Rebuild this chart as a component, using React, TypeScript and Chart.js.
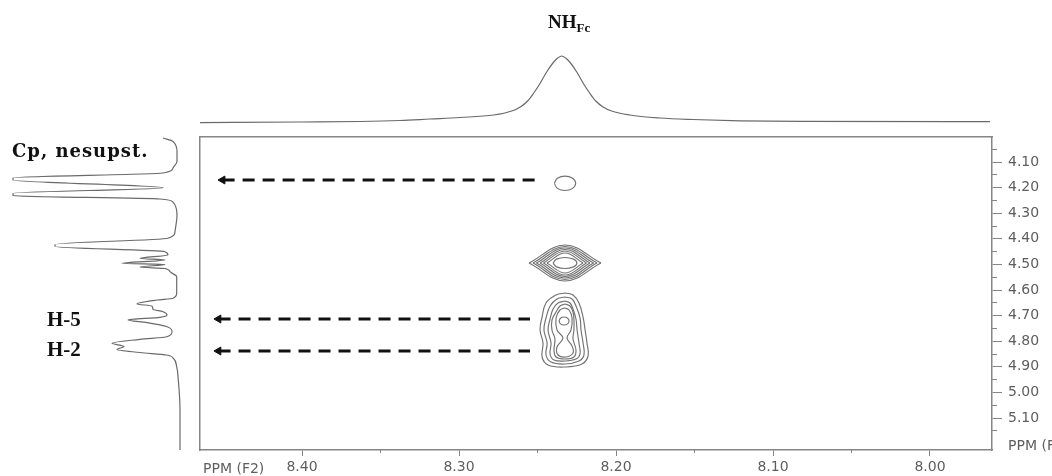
import React, { useEffect, useRef } from 'react';
import { Chart, registerables } from 'chart.js';

Chart.register(...registerables);

// ---------- axis ranges (ppm) ----------
const F2_MIN = 7.9605;
const F2_MAX = 8.465;
const F1_MIN = 4.0023;
const F1_MAX = 5.225;

// ---------- tick values ----------
const f2MajorTicks = [8.4, 8.3, 8.2, 8.1, 8.0];
const f2MinorTicks = [8.35, 8.25, 8.15, 8.05];
const f1MajorTicks = [4.1, 4.2, 4.3, 4.4, 4.5, 4.6, 4.7, 4.8, 4.9, 5.0, 5.1];
const f1MinorTicks = [4.05, 4.15, 4.25, 4.35, 4.45, 4.55, 4.65, 4.75, 4.85, 4.95, 5.05, 5.15];

// ---------- F2 projection (top trace) ----------
const topPpm = [
  8.465, 8.4013, 8.3631, 8.3376, 8.3185, 8.2994, 8.2779, 8.2664, 8.2607, 8.2563, 8.2524, 8.2486, 8.2442,
  8.2397, 8.2371, 8.2346, 8.2321, 8.2295, 8.225, 8.2206, 8.2168, 8.2129, 8.2085, 8.2028, 8.1913, 8.172,
  8.151, 8.121, 8.0828, 7.9618,
];
const topIntensity = [
  -0.7, 0, 0.5, 1.5, 3, 4.5, 7, 11, 15.3, 21, 29, 38, 50,
  60, 64, 66, 64, 60, 50, 38, 29, 21, 15.3, 11, 7, 4,
  2.5, 1.2, 0.6, 0.3,
];

// ---------- F1 projection (left trace) ----------
const leftPpm = [
  4.0063, 4.0196, 4.0586, 4.0977, 4.1234, 4.143, 4.1613, 4.1703, 4.2004, 4.2223, 4.2316, 4.2445, 4.257,
  4.307, 4.372, 4.3977, 4.4222, 4.43, 4.4504, 4.4633, 4.4762, 4.4828, 4.4957, 4.5004, 4.5102, 4.516,
  4.5285, 4.548, 4.6129, 4.6324, 4.6391, 4.6547, 4.6625, 4.6754, 4.6848, 4.6977, 4.7066, 4.7172, 4.7277,
  4.7434, 4.7629, 4.7824, 4.7926, 4.8082, 4.8207, 4.8324, 4.8441, 4.8539, 4.8668, 4.8996, 4.9516, 5.0688, 5.225,
];
const leftIntensity = [
  17, 7, 3, 3, 7, 17, 167, 167, 17, 167, 167, 20, 7,
  3, 5, 12, 125, 125, 15, 12, 40, 15, 58, 15, 40, 15,
  10, 3.3, 3.3, 7, 23, 43, 28, 27, 17, 13, 20, 52, 33,
  13, 8, 13, 40, 68, 56, 63, 40, 13.3, 6.7, 3.3, 1.7, 0, 0,
];

// ---------- cross peaks ----------
// elliptical contours: centre (F2, F1) and half-axes (ppm)
const ellipseCx = [8.2325, 8.2325, 8.2331];
const ellipseCy = [4.1832, 4.4945, 4.7211];
const ellipseRx = [0.0068, 0.0076, 0.0032];
const ellipseRy = [0.028, 0.0215, 0.0156];

// lens-shaped contours of the 4.49 ppm cross peak
const lensCx = 8.2325;
const lensCy = 4.4945;
const lensRx = [0.0229, 0.0204, 0.0182, 0.0159, 0.0137, 0.0115];
const lensRy = [0.0703, 0.0645, 0.0586, 0.0527, 0.0469, 0.0391];

// H-5 / H-2 cross peak contours (F2, F1)
const h5h2Contour1 = [
  [8.2325, 4.6117], [8.2274, 4.6195], [8.2236, 4.6508], [8.221, 4.7055], [8.2197, 4.7563], [8.2185, 4.807],
  [8.2178, 4.8578], [8.2217, 4.8891], [8.2325, 4.9008], [8.2433, 4.893], [8.2471, 4.8617], [8.2465, 4.807],
  [8.2484, 4.7563], [8.2471, 4.7055], [8.2446, 4.6508], [8.2382, 4.6195],
];
const h5h2Contour2 = [
  [8.2325, 4.6273], [8.228, 4.6352], [8.2255, 4.6625], [8.2229, 4.7094], [8.2223, 4.7563], [8.221, 4.807],
  [8.2204, 4.8539], [8.2236, 4.8773], [8.2325, 4.8891], [8.2414, 4.8813], [8.2446, 4.8539], [8.2439, 4.807],
  [8.2459, 4.7563], [8.2446, 4.7094], [8.242, 4.6625], [8.2376, 4.6352],
];
const h5h2Contour3 = [
  [8.2325, 4.643], [8.2293, 4.6508], [8.2274, 4.6742], [8.2255, 4.7133], [8.2248, 4.7563], [8.2236, 4.807],
  [8.2229, 4.85], [8.2255, 4.8695], [8.2325, 4.8773], [8.2395, 4.8734], [8.242, 4.85], [8.2414, 4.807],
  [8.2433, 4.7563], [8.242, 4.7133], [8.2401, 4.6742], [8.2369, 4.6508],
];
const h5h2Contour4 = [
  [8.2325, 4.6547], [8.2293, 4.6625], [8.2274, 4.6859], [8.2268, 4.7172], [8.2268, 4.7563], [8.2274, 4.7914],
  [8.2255, 4.8344], [8.2268, 4.8617], [8.2325, 4.8695], [8.2382, 4.8617], [8.2395, 4.8344], [8.2389, 4.7914],
  [8.2408, 4.7563], [8.2408, 4.7172], [8.2382, 4.6859], [8.2357, 4.6625],
];
const h5h2Contour5 = [
  [8.2325, 4.6703], [8.2299, 4.6781], [8.228, 4.7094], [8.2287, 4.7563], [8.2312, 4.7875], [8.228, 4.8188],
  [8.2274, 4.8461], [8.2318, 4.8617], [8.2369, 4.8539], [8.2376, 4.8227], [8.2338, 4.7875], [8.2376, 4.7563],
  [8.2382, 4.7094], [8.2357, 4.6781],
];
const h5h2Contours = [h5h2Contour1, h5h2Contour2, h5h2Contour3, h5h2Contour4, h5h2Contour5];

// ---------- dashed arrows (F1 row, F2 tip, F2 tail) ----------
const arrowF1 = [4.1703, 4.7133, 4.8383];
const arrowTipF2 = [8.4506, 8.4532, 8.4532];
const arrowTailF2 = [8.2516, 8.2548, 8.2548];

// ---------- styles ----------
const AXIS = '#858585';
const LABEL = '#5e5e5e';
const TRACE = '#6a6a6a';
const CONTOUR = '#727272';
const tickFont = { family: 'DejaVu Sans', size: 14 };

function contourDataset(points: number[][], closed: boolean) {
  const pts = closed ? [...points, points[0]] : points;
  return {
    data: pts.map(([x, y]) => ({ x, y })),
    showLine: true,
    borderColor: CONTOUR,
    borderWidth: 1.15,
    pointRadius: 0,
    tension: 0.4,
    fill: false,
  };
}

function ellipsePoints(cx: number, cy: number, rx: number, ry: number) {
  const k = 0.7071;
  return [
    [cx + rx, cy], [cx + k * rx, cy - k * ry], [cx, cy - ry], [cx - k * rx, cy - k * ry],
    [cx - rx, cy], [cx - k * rx, cy + k * ry], [cx, cy + ry], [cx + k * rx, cy + k * ry],
  ];
}

function buildMainDatasets() {
  const ds: any[] = [];
  ellipseCx.forEach((cx, i) => {
    ds.push(contourDataset(ellipsePoints(cx, ellipseCy[i], ellipseRx[i], ellipseRy[i]), true));
  });
  lensRx.forEach((rx, i) => {
    const ry = lensRy[i];
    ds.push(contourDataset([[lensCx + rx, lensCy], [lensCx, lensCy - ry], [lensCx - rx, lensCy]], false));
    ds.push(contourDataset([[lensCx + rx, lensCy], [lensCx, lensCy + ry], [lensCx - rx, lensCy]], false));
  });
  h5h2Contours.forEach((c) => ds.push(contourDataset(c, true)));
  arrowF1.forEach((y, i) => {
    ds.push({
      data: [{ x: arrowTipF2[i], y }, { x: arrowTailF2[i], y }],
      showLine: true,
      borderColor: '#111111',
      borderWidth: 3,
      borderDash: [12, 8],
      tension: 0,
      pointRadius: [4.6, 0],
      pointStyle: 'triangle',
      rotation: -90,
      pointBackgroundColor: '#111111',
      pointBorderColor: '#111111',
      pointBorderWidth: 1,
      fill: false,
    });
  });
  return ds;
}

const fixedTicks = (values: number[]) => (scale: any) => {
  scale.ticks = values.map((value) => ({ value }));
};

function mainConfig(): any {
  return {
    type: 'scatter',
    data: { datasets: buildMainDatasets() },
    options: {
      animation: false,
      responsive: false,
      events: [],
      layout: { padding: { left: 200, top: 137, right: 0, bottom: 0 } },
      plugins: { legend: { display: false }, tooltip: { enabled: false } },
      scales: {
        x: {
          type: 'linear', position: 'bottom', reverse: true, min: F2_MIN, max: F2_MAX, weight: 10,
          grid: { display: true, drawOnChartArea: false, drawTicks: true, tickLength: 6, tickColor: AXIS, tickWidth: 1 },
          border: { display: true, color: AXIS, width: 1.5 },
          ticks: { autoSkip: false, maxRotation: 0, padding: 3, color: LABEL, font: tickFont, callback: (v: any) => Number(v).toFixed(2) },
          afterBuildTicks: fixedTicks(f2MajorTicks),
          afterFit: (s: any) => { s.height = 26; },
        },
        xMinor: {
          type: 'linear', position: 'bottom', reverse: true, min: F2_MIN, max: F2_MAX, weight: 0,
          grid: { display: true, drawOnChartArea: false, drawTicks: true, tickLength: 3, tickColor: AXIS, tickWidth: 1 },
          border: { display: false },
          ticks: { display: false },
          afterBuildTicks: fixedTicks(f2MinorTicks),
          afterFit: (s: any) => { s.height = 0; },
        },
        xTop: {
          type: 'linear', position: 'top', min: F2_MIN, max: F2_MAX,
          grid: { display: false },
          border: { display: true, color: AXIS, width: 1.5 },
          ticks: { display: false },
          afterFit: (s: any) => { s.height = 0; },
        },
        y: {
          type: 'linear', position: 'right', reverse: true, min: F1_MIN, max: F1_MAX, weight: 10,
          grid: { display: true, drawOnChartArea: false, drawTicks: true, tickLength: 10, tickColor: AXIS, tickWidth: 1 },
          border: { display: true, color: AXIS, width: 1.5 },
          ticks: { autoSkip: false, padding: 6, color: LABEL, font: tickFont, callback: (v: any) => Number(v).toFixed(2) },
          afterBuildTicks: fixedTicks(f1MajorTicks),
          afterFit: (s: any) => { s.width = 60; },
        },
        yMinor: {
          type: 'linear', position: 'right', reverse: true, min: F1_MIN, max: F1_MAX, weight: 0,
          grid: { display: true, drawOnChartArea: false, drawTicks: true, tickLength: 5, tickColor: AXIS, tickWidth: 1 },
          border: { display: false },
          ticks: { display: false },
          afterBuildTicks: fixedTicks(f1MinorTicks),
          afterFit: (s: any) => { s.width = 0; },
        },
        yLeft: {
          type: 'linear', position: 'left', min: F1_MIN, max: F1_MAX,
          grid: { display: false },
          border: { display: true, color: AXIS, width: 1.5 },
          ticks: { display: false },
          afterFit: (s: any) => { s.width = 0; },
        },
      },
    },
  };
}

function topConfig(): any {
  return {
    type: 'line',
    data: {
      datasets: [{
        data: topPpm.map((x, i) => ({ x, y: topIntensity[i] })),
        borderColor: TRACE, borderWidth: 1.2, pointRadius: 0,
        cubicInterpolationMode: 'monotone', fill: false,
      }],
    },
    options: {
      animation: false, responsive: false, events: [],
      plugins: { legend: { display: false }, tooltip: { enabled: false } },
      scales: {
        x: { type: 'linear', reverse: true, min: F2_MIN, max: F2_MAX, display: false },
        y: { type: 'linear', min: -8, max: 82, display: false },
      },
    },
  };
}

function leftConfig(): any {
  return {
    type: 'line',
    data: {
      datasets: [{
        data: leftPpm.map((y, i) => ({ x: leftIntensity[i], y })),
        borderColor: TRACE, borderWidth: 1.2, pointRadius: 0,
        cubicInterpolationMode: 'monotone', fill: false,
      }],
    },
    options: {
      indexAxis: 'y',
      animation: false, responsive: false, events: [],
      plugins: { legend: { display: false }, tooltip: { enabled: false } },
      scales: {
        x: { type: 'linear', reverse: true, min: -10, max: 180, display: false },
        y: { type: 'linear', reverse: true, min: F1_MIN, max: F1_MAX, display: false },
      },
    },
  };
}

const serifBold = { fontFamily: '"Liberation Serif", "Times New Roman", serif', fontWeight: 700 as const, color: '#111' };
const axisText = { fontFamily: '"DejaVu Sans", sans-serif', fontSize: 14, lineHeight: '14px', color: LABEL, whiteSpace: 'nowrap' as const };

export default function App() {
  const mainRef = useRef<HTMLCanvasElement>(null);
  const topRef = useRef<HTMLCanvasElement>(null);
  const leftRef = useRef<HTMLCanvasElement>(null);

  useEffect(() => {
    const charts = [
      new Chart(mainRef.current as HTMLCanvasElement, mainConfig()),
      new Chart(topRef.current as HTMLCanvasElement, topConfig()),
      new Chart(leftRef.current as HTMLCanvasElement, leftConfig()),
    ];
    return () => charts.forEach((c) => c.destroy());
  }, []);

  return (
    <div style={{ position: 'absolute', left: 0, top: 0, width: 1052, height: 476, overflow: 'hidden', background: '#fff' }}>
      <canvas ref={mainRef} width={1052} height={476} style={{ position: 'absolute', left: 0, top: 0 }} />
      <canvas ref={topRef} width={792} height={90} style={{ position: 'absolute', left: 200, top: 40 }} />
      <canvas ref={leftRef} width={190} height={313} style={{ position: 'absolute', left: 0, top: 137 }} />

      <div style={{ ...serifBold, position: 'absolute', left: 548, top: 12, fontSize: 19, lineHeight: '19px', whiteSpace: 'nowrap' }}>
        NH<span style={{ fontSize: 13, position: 'relative', top: 4 }}>Fc</span>
      </div>
      <div style={{ position: 'absolute', left: 12, top: 141.5, fontFamily: '"DejaVu Serif", serif', fontWeight: 700, fontSize: 18, lineHeight: '18px', letterSpacing: 1, color: '#111', whiteSpace: 'nowrap' }}>
        Cp, nesupst.
      </div>
      <div style={{ ...serifBold, position: 'absolute', left: 47, top: 308.5, fontSize: 21, lineHeight: '21px' }}>H-5</div>
      <div style={{ ...serifBold, position: 'absolute', left: 47, top: 339, fontSize: 21, lineHeight: '21px' }}>H-2</div>

      <div style={{ ...axisText, position: 'absolute', left: 203, top: 460.5 }}>PPM (F2)</div>
      <div style={{ ...axisText, position: 'absolute', left: 1008, top: 438 }}>PPM (F1)</div>
    </div>
  );
}
